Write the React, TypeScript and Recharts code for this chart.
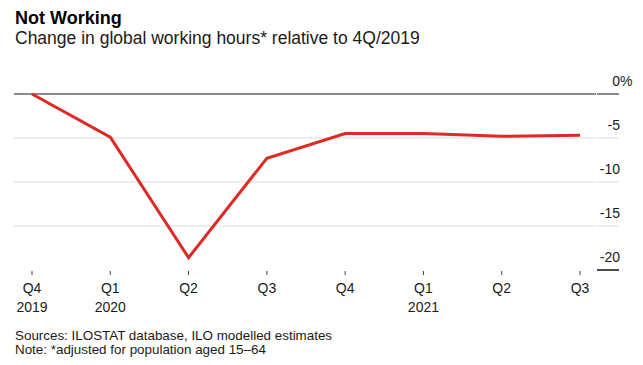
import React from "react";
import { LineChart, Line, XAxis, YAxis, CartesianGrid, ReferenceLine } from "recharts";

// quarters and the change in hours
const quarters = ["Q4", "Q1", "Q2", "Q3", "Q4", "Q1", "Q2", "Q3"];
const years = ["2019", "2020", "", "", "", "2021", "", ""];
const change = [0, -4.9, -18.6, -7.3, -4.5, -4.5, -4.8, -4.7];
const yTicks = [0, -5, -10, -15, -20];
const gridValues = [-5, -10, -15];

const data = quarters.map((q, i) => ({ id: `${q}-${i}`, value: change[i] }));

const FONT = "'Liberation Sans', Arial, Helvetica, sans-serif";

const XTick = (props: any) => {
  const { x, y, payload } = props;
  const i = payload.index;
  return (
    <g>
      <line x1={x} x2={x} y1={y + 1} y2={y + 5} stroke="#444" strokeWidth={1} />
      <text x={x} y={y + 23} textAnchor="middle" fontSize={14} fill="#1a1a1a" fontFamily={FONT}>
        {quarters[i]}
      </text>
      {years[i] && (
        <text x={x} y={y + 42} textAnchor="middle" fontSize={14} fill="#1a1a1a" fontFamily={FONT}>
          {years[i]}
        </text>
      )}
    </g>
  );
};

const YTick = (props: any) => {
  const { x, y, payload } = props;
  const v = payload.value;
  const stroke = v === 0 ? "#8c8c8c" : v === -20 ? "#111" : "#ddd";
  const sw = v === 0 ? 2 : v === -20 ? 1.5 : 1;
  return (
    <g>
      <line x1={x + 1} x2={x + 23} y1={y} y2={y} stroke={stroke} strokeWidth={sw} />
      <text x={x + 24} y={y - 8} textAnchor="end" fontSize={14} fill="#1a1a1a" fontFamily={FONT}>
        {v}
      </text>
      {v === 0 && (
        <text x={x + 24} y={y - 8} textAnchor="start" fontSize={14} fill="#1a1a1a" fontFamily={FONT}>
          %
        </text>
      )}
    </g>
  );
};

export default function App() {
  return (
    <div style={{ position: "absolute", left: 0, top: 0, width: 643, height: 365, background: "#fff", fontFamily: FONT }}>
      <div style={{ position: "absolute", left: 15, top: 9, fontSize: 18, lineHeight: "18px", fontWeight: 700, color: "#000" }}>
        Not Working
      </div>
      <div style={{ position: "absolute", left: 15, top: 30, fontSize: 17.5, lineHeight: "17.5px", color: "#1a1a1a" }}>
        Change in global working hours* relative to 4Q/2019
      </div>
      <div style={{ position: "absolute", left: 0, top: 0 }}>
        <LineChart width={643} height={365} data={data} margin={{ top: 94, right: 0, bottom: 45, left: 14 }}>
          <CartesianGrid vertical={false} horizontalValues={gridValues} stroke="#ddd" />
          <ReferenceLine y={0} stroke="#8c8c8c" strokeWidth={2} />
          <XAxis
            dataKey="id"
            scale="point"
            padding={{ left: 18, right: 16 }}
            height={50}
            axisLine={false}
            tickLine={false}
            tickSize={0}
            tickMargin={0}
            interval={0}
            tick={<XTick />}
          />
          <YAxis
            orientation="right"
            width={47}
            domain={[-20, 0]}
            ticks={yTicks}
            axisLine={false}
            tickLine={false}
            tickSize={0}
            tickMargin={0}
            tick={<YTick />}
          />
          <Line
            type="linear"
            dataKey="value"
            stroke="#dd2a25"
            strokeWidth={3}
            dot={false}
            activeDot={false}
            isAnimationActive={false}
          />
        </LineChart>
      </div>
      <div style={{ position: "absolute", left: 15, top: 328.6, fontSize: 13.4, lineHeight: "14.5px", color: "#1a1a1a" }}>
        <div>Sources: ILOSTAT database, ILO modelled estimates</div>
        <div>Note: *adjusted for population aged 15–64</div>
      </div>
    </div>
  );
}
